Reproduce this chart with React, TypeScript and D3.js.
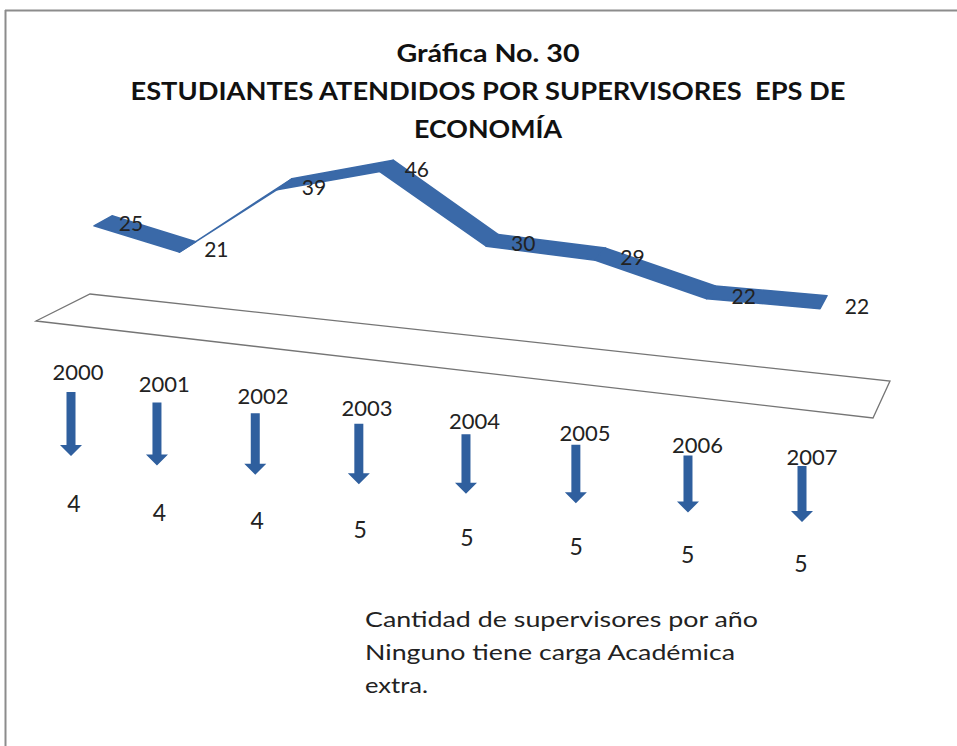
import * as d3 from "d3";

const years = ["2000", "2001", "2002", "2003", "2004", "2005", "2006", "2007"];
const students = [25, 21, 39, 46, 30, 29, 22, 22];
const supervisors = [4, 4, 4, 5, 5, 5, 5, 5];
const titleLines = [
  "Gráfica No. 30",
  "ESTUDIANTES ATENDIDOS POR SUPERVISORES  EPS DE",
  "ECONOMÍA",
];
const noteLines = [
  "Cantidad de supervisores por año",
  "Ninguno tiene carga Académica",
  "extra.",
];

const W = 957;
const H = 746;
const FONT = "Lato, 'Open Sans', sans-serif";
const BLUE = "#3a69a8";
const ARROW_BLUE = "#2f5f9e";

// the 3d floor of the chart, seen in perspective
const floor: [number, number][] = [
  [36, 321],
  [90, 294],
  [890, 381],
  [873, 418],
];

const App = () => {
  const last = years.length - 1;
  // perspective: points get further apart to the right
  const xRibbon = d3.scalePow().exponent(1.1).domain([0, last]).range([94, 820]);
  const yBase = d3.scaleLinear().domain([0, last]).range([326.6, 397.4]);
  const yHeight = d3.scaleLinear().domain([0, 50]).range([0, 201.5]);
  const depthX = d3.scaleLinear().domain([0, last]).range([18, 7]);
  const depthY = d3.scaleLinear().domain([0, last]).range([-10, -13]);

  const xYear = d3.scalePow().exponent(1.1).domain([0, last]).range([78, 812]);
  const yYear = d3.scaleLinear().domain([0, last]).range([380, 465]);
  const xArrow = d3.scalePow().exponent(1.1).domain([0, last]).range([71, 802]);
  const yArrowTop = d3.scaleLinear().domain([0, last]).range([392, 466]);
  const yArrowTip = d3.scaleLinear().domain([0, last]).range([456, 522]);
  const xCount = d3.scalePow().exponent(1.1).domain([0, last]).range([74, 801]);
  const yCount = d3.scaleLinear().domain([0, last]).range([512, 572]);

  const front = students.map((v, i) => [xRibbon(i), yBase(i) - yHeight(v)] as [number, number]);
  const back = front.map(([x, y], i) => [x + depthX(i), y + depthY(i)] as [number, number]);

  const segments = d3.pairs(d3.range(students.length)).map(([a, b]) => {
    const p = d3.path();
    p.moveTo(front[a][0], front[a][1]);
    p.lineTo(front[b][0], front[b][1]);
    p.lineTo(back[b][0], back[b][1]);
    p.lineTo(back[a][0], back[a][1]);
    p.closePath();
    return p.toString();
  });

  const arrow = (i: number) => {
    const x = xArrow(i);
    const top = yArrowTop(i);
    const tip = yArrowTip(i);
    const head = 11;
    const p = d3.path();
    p.moveTo(x - 4.5, top);
    p.lineTo(x + 4.5, top);
    p.lineTo(x + 4.5, tip - head);
    p.lineTo(x + 11, tip - head);
    p.lineTo(x, tip);
    p.lineTo(x - 11, tip - head);
    p.lineTo(x - 4.5, tip - head);
    p.closePath();
    return p.toString();
  };

  const floorPath = d3.line()(floor) + "Z";

  return (
    <svg
      width={W}
      height={H}
      style={{ position: "absolute", left: 0, top: 0, background: "#fff" }}
      fontFamily={FONT}
    >
      {/* frame */}
      <line x1={5.5} x2={5.5} y1={10} y2={H} stroke="#8c8c8c" strokeWidth={2} />
      <line x1={5} x2={W} y1={10.5} y2={10.5} stroke="#8c8c8c" strokeWidth={2} />

      {/* title */}
      <g fontWeight="bold" fontSize={24} fill="#111" textAnchor="middle">
        <text x={488} y={62} textLength={183} lengthAdjust="spacingAndGlyphs">
          {titleLines[0]}
        </text>
        <text
          x={488}
          y={100}
          textLength={715}
          lengthAdjust="spacingAndGlyphs"
          style={{ whiteSpace: "pre" }}
        >
          {titleLines[1]}
        </text>
        <text x={488} y={138} textLength={148} lengthAdjust="spacingAndGlyphs">
          {titleLines[2]}
        </text>
      </g>

      {/* floor */}
      <path d={floorPath} fill="none" stroke="#757575" strokeWidth={1.3} />

      {/* ribbon */}
      {segments.map((d, i) => (
        <path key={i} d={d} fill={BLUE} stroke={BLUE} strokeWidth={1.6} strokeLinejoin="round" />
      ))}

      {/* value labels */}
      <g fontSize={21} fill="#222" textAnchor="middle">
        {students.map((v, i) => (
          <text key={i} x={xRibbon(i) + 37} y={yBase(i) - yHeight(v) + 5}>
            {v}
          </text>
        ))}
      </g>

      {/* years + arrows + supervisors */}
      <g fontSize={22} fill="#222" textAnchor="middle">
        {years.map((y, i) => (
          <text key={y} x={xYear(i)} y={yYear(i)}>
            {y}
          </text>
        ))}
      </g>
      {years.map((y, i) => (
        <path key={y} d={arrow(i)} fill={ARROW_BLUE} />
      ))}
      <g fontSize={23} fill="#222" textAnchor="middle">
        {supervisors.map((s, i) => (
          <text key={i} x={xCount(i)} y={yCount(i)}>
            {s}
          </text>
        ))}
      </g>

      {/* note */}
      <g fontSize={22} fill="#222">
        <text x={365} y={627} textLength={393} lengthAdjust="spacingAndGlyphs">
          {noteLines[0]}
        </text>
        <text x={365} y={660} textLength={370} lengthAdjust="spacingAndGlyphs">
          {noteLines[1]}
        </text>
        <text x={365} y={693} textLength={63} lengthAdjust="spacingAndGlyphs">
          {noteLines[2]}
        </text>
      </g>
    </svg>
  );
};

export default App;
